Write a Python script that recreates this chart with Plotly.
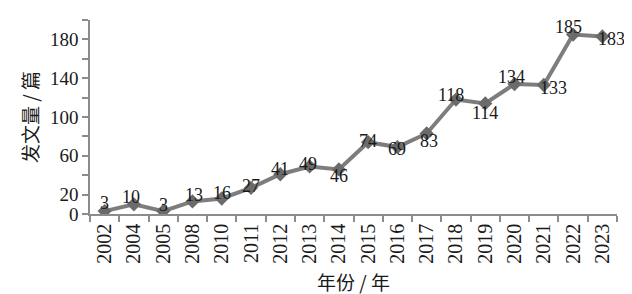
import plotly.graph_objects as go

years = ["2002", "2004", "2005", "2008", "2010", "2011", "2012", "2013", "2014",
         "2015", "2016", "2017", "2018", "2019", "2020", "2021", "2022", "2023"]
counts = [3, 10, 3, 13, 16, 27, 41, 49, 46, 74, 69, 83, 118, 114, 134, 133, 185, 183]

y_tickvals = [0, 20, 40, 60, 80, 100, 120, 140, 160, 180, 200]
y_ticktext = ["0", "20", "", "60", "", "100", "", "140", "", "180", ""]

# label offsets in pixels (dx, dy), style only
label_dx = [0, -3, 0, 2, 0, 0, 0, -2, 0, 0, 0, 2, -5, 0, -3, 10, -5, 9]
label_dy = [8, 7, 6, 6, 5, 2, 5, 2, -7, 1, -2, -8, 5, -10, 7, -3, 8, -3]

SERIF = "Liberation Serif, Times New Roman, Noto Sans CJK SC, serif"
CJK = "Noto Sans CJK SC, Liberation Serif, serif"

fig = go.Figure()
fig.add_trace(go.Scatter(
    x=years, y=counts, mode="lines+markers",
    line=dict(color="#7d7d7d", width=4),
    marker=dict(symbol="diamond", size=11, color="#6b6b6b"),
    hoverinfo="x+y", showlegend=False,
))

for i, v in enumerate(counts):
    fig.add_annotation(
        x=i, y=v, xref="x", yref="y", text=str(v), showarrow=False,
        xshift=label_dx[i], yshift=label_dy[i],
        font=dict(family=SERIF, size=18, color="#1a1a1a"),
    )

fig.update_layout(
    width=632, height=294,
    margin=dict(l=82, r=23, t=12, b=88),
    paper_bgcolor="white", plot_bgcolor="white",
    font=dict(family=SERIF, size=20, color="#1a1a1a"),
)
fig.update_xaxes(
    type="category", range=[-0.5, len(years) - 0.5],
    showline=True, linecolor="#8c8c8c", linewidth=1.5,
    ticks="outside", tickson="boundaries", ticklen=6, tickcolor="#8c8c8c", tickwidth=1.5,
    tickangle=-90, tickfont=dict(family=SERIF, size=20, color="#1a1a1a"),
    showgrid=False, zeroline=False,
    title=dict(text="年份 / 年", font=dict(family=CJK, size=19, color="#1a1a1a"), standoff=14),
)
fig.update_yaxes(
    range=[0, 200], tickmode="array", tickvals=y_tickvals, ticktext=y_ticktext,
    showline=True, linecolor="#8c8c8c", linewidth=1.5,
    ticks="outside", ticklen=6, tickcolor="#8c8c8c", tickwidth=1.5,
    tickfont=dict(family=SERIF, size=19, color="#1a1a1a"),
    showgrid=False, zeroline=False,
    title=dict(text="发文量 / 篇", font=dict(family=CJK, size=19, color="#1a1a1a"), standoff=6),
)

fig.write_html("out.html")
